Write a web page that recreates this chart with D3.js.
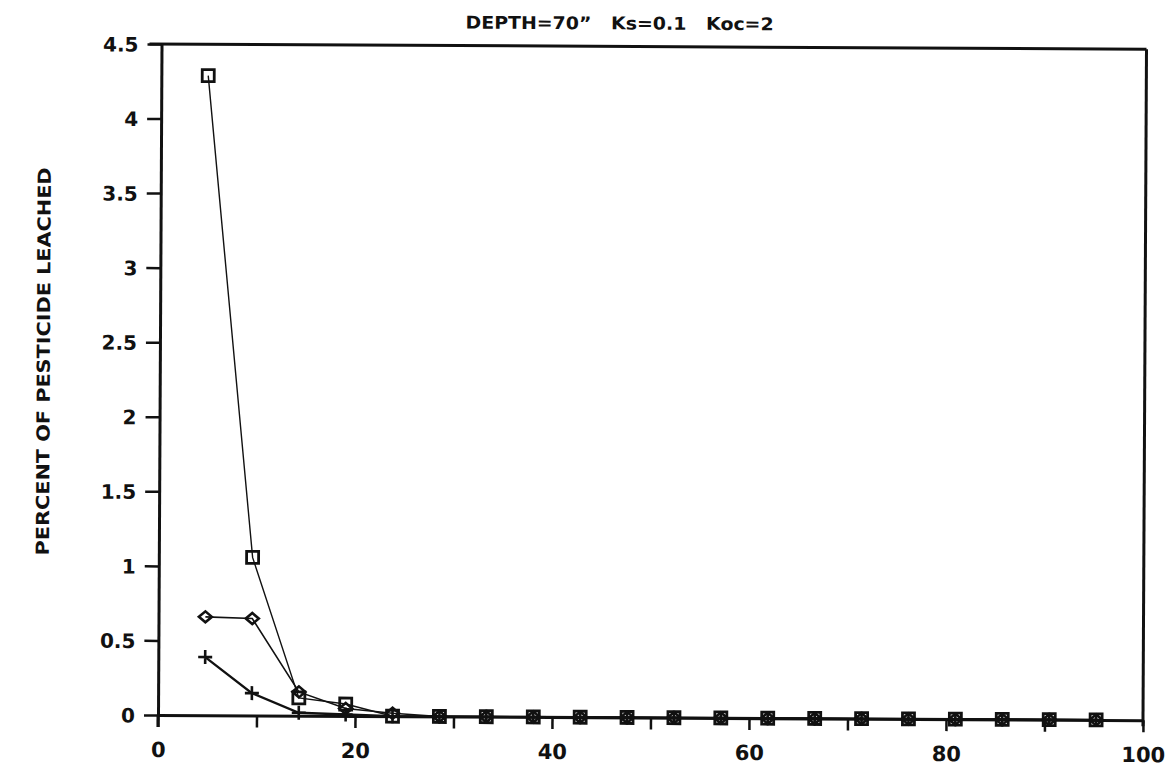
<!DOCTYPE html>
<html>
<head>
<meta charset="utf-8">
<script src="https://cdn.jsdelivr.net/npm/d3@7/dist/d3.min.js"></script>
<style>
  html, body { margin: 0; padding: 0; background: #fff; }
  svg { display: block; }
  text { font-family: "DejaVu Sans", "Liberation Sans", Arial, sans-serif; font-weight: bold; fill: #111; }
</style>
</head>
<body>
<svg id="chart" width="1167" height="767"></svg>
<script>
// Time steps along the horizontal axis
const steps = [4.76, 9.52, 14.29, 19.05, 23.81, 28.57, 33.33, 38.10, 42.86, 47.62,
               52.38, 57.14, 61.90, 66.67, 71.43, 76.19, 80.95, 85.71, 90.48, 95.24];

// Percent of pesticide leached, one list per curve
const squareSeries  = [4.29, 1.06, 0.12, 0.08, 0.00, 0, 0, 0, 0, 0, 0, 0, 0, 0, 0, 0, 0, 0, 0, 0];
const diamondSeries = [0.66, 0.65, 0.16, 0.05, 0.02, 0, 0, 0, 0, 0, 0, 0, 0, 0, 0, 0, 0, 0, 0, 0];
const plusSeries    = [0.39, 0.15, 0.02, 0.01, 0.00, 0, 0, 0, 0, 0, 0, 0, 0, 0, 0, 0, 0, 0, 0, 0];

const xTicks = [0, 10, 20, 30, 40, 50, 60, 70, 80, 90, 100];
const xTickLabels = ["0", "", "20", "", "40", "", "60", "", "80", "", "100"];
const yTicks = [0, 0.5, 1, 1.5, 2, 2.5, 3, 3.5, 4, 4.5];
const yTickLabels = ["0", "0.5", "1", "1.5", "2", "2.5", "3", "3.5", "4", "4.5"];

const titleText = "DEPTH=70\u201D   Ks=0.1   Koc=2";
const yTitle = "PERCENT OF PESTICIDE LEACHED";

const FONT = "DejaVu Sans, Liberation Sans, Arial, sans-serif";
const INK = "#111";

const svg = d3.select("#chart");
const x = d3.scaleLinear().domain([0, 100]).range([158, 1143]);
const y = d3.scaleLinear().domain([0, 4.5]).range([715, 44]);

// whole plot sits slightly tilted on the page
const g = svg.append("g").attr("transform", "rotate(0.3, 158, 715)");

// frame: top and right edges
g.append("line").attr("x1", x(0) - 12).attr("x2", x(100)).attr("y1", y(4.5)).attr("y2", y(4.5))
  .attr("stroke", INK).attr("stroke-width", 3);
g.append("line").attr("x1", x(100)).attr("x2", x(100)).attr("y1", y(4.5)).attr("y2", y(0) + 6)
  .attr("stroke", INK).attr("stroke-width", 3);

// bottom axis
const xAxis = d3.axisBottom(x).tickValues(xTicks).tickSize(12).tickSizeOuter(0)
  .tickFormat((d, i) => xTickLabels[i]);
const gx = g.append("g").attr("transform", `translate(0,${y(0)})`).call(xAxis);
gx.select(".domain").attr("stroke", INK).attr("stroke-width", 3);
gx.selectAll(".tick line").attr("stroke", INK).attr("stroke-width", 2.5);
gx.selectAll(".tick text").attr("font-size", 21).attr("dy", 0).attr("y", 42)
  .attr("font-family", FONT).attr("font-weight", "bold").attr("fill", INK);

// left axis
const yAxis = d3.axisLeft(y).tickValues(yTicks).tickSize(14).tickSizeOuter(0)
  .tickFormat((d, i) => yTickLabels[i]);
const gy = g.append("g").attr("transform", `translate(${x(0)},0)`).call(yAxis);
gy.select(".domain").attr("stroke", INK).attr("stroke-width", 3);
gy.selectAll(".tick line").attr("stroke", INK).attr("stroke-width", 2.5);
gy.selectAll(".tick text").attr("font-size", 20).attr("x", -23).attr("dy", "0.36em")
  .attr("font-family", FONT).attr("font-weight", "bold").attr("fill", INK);
// left axis runs a bit below the zero line
g.append("line").attr("x1", x(0)).attr("x2", x(0)).attr("y1", y(0)).attr("y2", y(0) + 12)
  .attr("stroke", INK).attr("stroke-width", 3);

// title
g.append("text").attr("x", 616).attr("y", 27).attr("text-anchor", "middle")
  .attr("font-size", 17.5).attr("xml:space", "preserve")
  .attr("textLength", 308).attr("lengthAdjust", "spacingAndGlyphs").text(titleText);

// vertical axis title
g.append("text").attr("transform", "translate(48,362) rotate(-90)").attr("text-anchor", "middle")
  .attr("font-size", 18).attr("textLength", 388).attr("lengthAdjust", "spacingAndGlyphs").text(yTitle);

const line = d3.line().x(d => x(d[0])).y(d => y(d[1]));
const series = [
  { values: squareSeries, width: 1.4, marker: "square" },
  { values: diamondSeries, width: 1.6, marker: "diamond" },
  { values: plusSeries, width: 2.3, marker: "plus" }
];

series.forEach(s => {
  const pts = steps.map((t, i) => [t, s.values[i]]);
  g.append("path").datum(pts).attr("d", line).attr("fill", "none")
    .attr("stroke", INK).attr("stroke-width", s.width);
  const m = g.append("g");
  pts.forEach(p => {
    const cx = x(p[0]), cy = y(p[1]);
    if (s.marker === "square") {
      m.append("rect").attr("x", cx - 6).attr("y", cy - 6).attr("width", 12).attr("height", 12)
        .attr("fill", "none").attr("stroke", INK).attr("stroke-width", 2.8);
    } else if (s.marker === "diamond") {
      m.append("path").attr("d", `M${cx - 6.5},${cy}L${cx},${cy - 5.5}L${cx + 6.5},${cy}L${cx},${cy + 5.5}Z`)
        .attr("fill", "none").attr("stroke", INK).attr("stroke-width", 2.6);
    } else {
      m.append("path").attr("d", `M${cx - 7},${cy}H${cx + 7}M${cx},${cy - 7}V${cy + 7}`)
        .attr("fill", "none").attr("stroke", INK).attr("stroke-width", 2.6);
    }
  });
});
</script>
</body>
</html>
